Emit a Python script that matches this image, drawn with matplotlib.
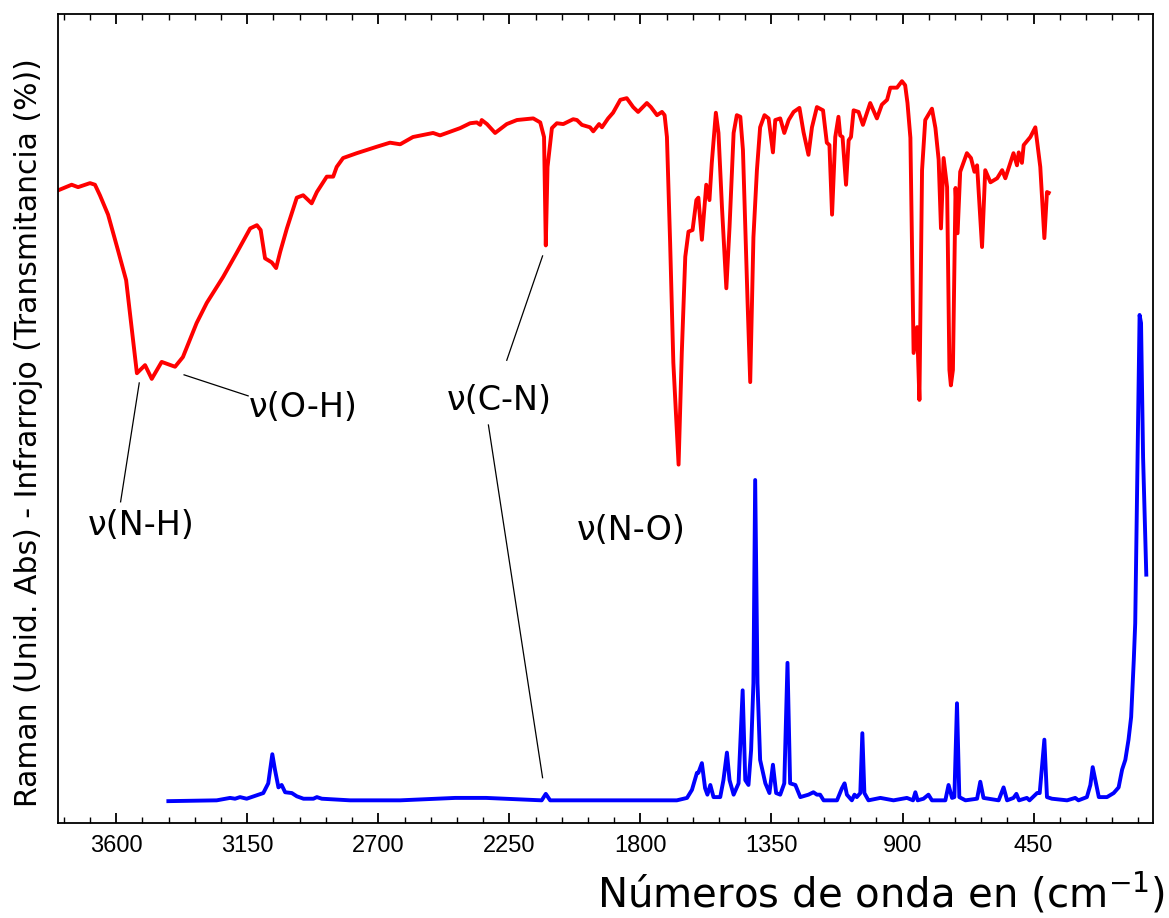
import matplotlib.pyplot as plt
from matplotlib.ticker import MultipleLocator

# IR (transmitancia, escala relativa 0-100)
ir_wn = [3800, 3753, 3731, 3690, 3673, 3656, 3628, 3594, 3566, 3546, 3529, 3501, 3478, 3444,
         3398, 3371, 3324, 3289, 3233, 3186, 3140, 3117, 3104, 3089, 3066, 3051, 3037, 3014,
         2980, 2958, 2929, 2911, 2877, 2855, 2843, 2821, 2774, 2705, 2660, 2625, 2581, 2512,
         2488, 2419, 2385, 2362, 2350, 2345, 2327, 2299, 2259, 2224, 2168, 2144, 2131, 2125,
         2119, 2104, 2087, 2065, 2031, 2018, 2001, 1973, 1962, 1942, 1932, 1911, 1894, 1869,
         1847, 1825, 1808, 1778, 1764, 1743, 1726, 1717, 1709, 1698, 1687, 1669, 1658, 1646,
         1635, 1621, 1608, 1601, 1589, 1574, 1563, 1555, 1541, 1532, 1520, 1505, 1494, 1480,
         1469, 1457, 1448, 1432, 1423, 1412, 1400, 1389, 1374, 1360, 1345, 1337, 1320, 1306,
         1291, 1274, 1254, 1240, 1223, 1211, 1194, 1173, 1160, 1151, 1142, 1131, 1120, 1114,
         1106, 1094, 1085, 1077, 1068, 1051, 1036, 1011, 988, 971, 953, 942, 919, 902, 891,
         883, 873, 862, 850, 842, 833, 822, 799, 787, 776, 768, 759, 747, 739, 734, 727, 718,
         711, 702, 679, 665, 653, 644, 627, 616, 598, 575, 558, 547, 519, 507, 501, 490, 484,
         461, 444, 427, 413, 404, 398]
ir_t = [78.2, 78.9, 78.6, 79.1, 78.9, 77.6, 75.2, 70.8, 67.1, 60.9, 55.6, 56.6, 54.9, 57.0,
        56.4, 57.6, 61.8, 64.3, 67.5, 70.5, 73.5, 73.9, 73.3, 69.8, 69.3, 68.6, 70.6, 73.5,
        77.3, 77.6, 76.6, 78.0, 79.9, 79.9, 81.1, 82.2, 82.8, 83.6, 84.1, 83.9, 84.8, 85.3,
        85.0, 85.9, 86.5, 86.6, 86.3, 86.9, 86.4, 85.3, 86.4, 86.9, 87.1, 86.6, 84.8, 71.4,
        81.1, 85.9, 86.5, 86.4, 87.0, 86.9, 86.3, 86.0, 85.5, 86.4, 86.0, 87.1, 87.8, 89.4,
        89.6, 88.5, 87.9, 89.0, 88.5, 87.5, 87.9, 87.5, 84.8, 71.7, 56.9, 44.3, 58.1, 70.0,
        73.1, 73.3, 77.0, 77.3, 72.1, 78.9, 77.0, 81.6, 87.8, 85.3, 76.1, 66.1, 73.7, 85.3,
        87.5, 87.3, 83.2, 64.3, 54.5, 72.4, 80.7, 86.0, 87.5, 87.1, 82.9, 86.9, 87.1, 85.3,
        86.9, 87.9, 88.4, 85.4, 82.6, 86.0, 88.5, 88.1, 84.1, 83.8, 75.2, 84.8, 87.3, 85.0,
        84.8, 78.9, 84.4, 84.8, 88.1, 87.9, 86.3, 89.0, 87.1, 88.8, 89.4, 90.9, 90.9, 91.7, 91.2,
        89.0, 84.7, 58.1, 61.3, 52.3, 80.7, 86.9, 88.3, 85.9, 82.0, 73.5, 82.2, 78.6, 56.0, 54.1,
        56.0, 78.5, 72.9, 80.5, 82.8, 82.2, 80.5, 81.3, 71.2, 80.7, 79.2, 79.7, 80.7, 79.7, 82.8,
        81.3, 82.9, 81.6, 83.8, 84.8, 86.0, 81.1, 72.3, 78.0, 77.9]

# Raman (unidades arbitrarias)
ra_wn = [3421, 3255, 3209, 3192, 3175, 3152, 3095, 3078, 3064, 3055, 3043, 3032, 3020, 2997,
         2980, 2957, 2923, 2911, 2894, 2797, 2625, 2436, 2330, 2139, 2125, 2110, 1938, 1675,
         1640, 1623, 1606, 1601, 1589, 1578, 1570, 1560, 1549, 1526, 1515, 1503, 1494, 1480,
         1463, 1449, 1440, 1429, 1420, 1412, 1406, 1398, 1389, 1371, 1357, 1345, 1334, 1320,
         1306, 1295, 1286, 1268, 1251, 1223, 1206, 1194, 1183, 1171, 1125, 1108, 1099, 1091,
         1074, 1065, 1057, 1045, 1038, 1031, 1017, 976, 931, 885, 864, 856, 848, 828, 811, 799,
         753, 742, 730, 722, 713, 705, 684, 644, 633, 622, 570, 553, 541, 519, 509, 500, 473,
         464, 438, 429, 413, 404, 387, 335, 307, 296, 267, 255, 247, 238, 226, 198, 175, 158,
         146, 135, 124, 115, 106, 101, 93, 86, 81, 74, 63]
ra_i = [2.7, 2.8, 3.1, 3.0, 3.2, 3.0, 3.7, 4.9, 8.5, 6.6, 4.4, 4.7, 3.8, 3.7,
        3.3, 3.0, 3.0, 3.2, 3.0, 2.8, 2.8, 3.1, 3.1, 2.8, 3.6, 2.8, 2.8, 2.8,
        3.1, 4.1, 6.2, 6.2, 7.4, 4.3, 3.5, 4.7, 3.2, 3.2, 5.3, 8.7, 5.3, 3.5,
        4.9, 16.4, 5.3, 4.7, 9.0, 17.3, 42.4, 17.3, 7.8, 4.9, 3.7, 7.2, 3.7, 3.5,
        4.9, 19.8, 4.9, 4.7, 3.2, 3.5, 3.8, 3.5, 3.5, 2.8, 2.8, 4.3, 4.9, 3.5,
        2.8, 3.5, 3.2, 3.7, 11.1, 3.7, 2.8, 3.1, 2.8, 3.1, 2.8, 3.8, 2.8, 3.0, 3.5, 2.8,
        2.8, 4.7, 3.1, 3.2, 14.8, 3.2, 2.8, 3.0, 5.1, 3.1, 2.8, 4.4, 2.8, 3.1, 3.6, 2.8, 3.1,
        2.8, 3.7, 3.7, 10.3, 3.2, 3.0, 2.8, 3.1, 2.8, 3.2, 4.7, 6.9, 5.3, 3.2, 3.2, 3.7, 4.4,
        6.6, 7.8, 10.3, 13.1, 20.1, 24.7, 45.2, 62.8, 61.8, 45.2, 30.7]

# etiquetas: texto, posicion del texto, segmentos guia (wn1, y1, wn2, y2)
labels = ['ν(N-H)', 'ν(O-H)', 'ν(C-N)', 'ν(N-O)']
label_xy = [(3513, 36.8), (2957, 51.3), (2285, 52.2), (1830, 36.2)]
guides = [(3521, 54.4, 3585, 39.7), (3367, 55.4, 3147, 52.8),
          (2136, 70.1, 2259, 57.2), (2322, 49.2, 2136, 5.6)]

fig = plt.figure(figsize=(11.69, 9.18), dpi=100)
ax = fig.add_axes([0.0496, 0.1035, 0.9367, 0.8812])

ax.plot(ir_wn, ir_t, color='#ff0000', linewidth=2.8, solid_joinstyle='round')
ax.plot(ra_wn, ra_i, color='#0000ff', linewidth=2.8, solid_joinstyle='round')

for (x1, y1, x2, y2) in guides:
    ax.plot([x1, x2], [y1, y2], color='black', linewidth=0.9)
for txt, (x, y) in zip(labels, label_xy):
    ax.text(x, y, txt, ha='center', va='center', fontsize=24, family='DejaVu Sans')

ax.set_xlim(3800, 40)
ax.set_ylim(0, 100)
ax.xaxis.set_minor_locator(MultipleLocator(90))
ax.set_xticks([3600, 3150, 2700, 2250, 1800, 1350, 900, 450])
ax.set_yticks([])
ax.tick_params(axis='x', which='both', direction='in', top=True, bottom=True)
ax.tick_params(axis='x', which='major', length=7, width=1.3, labelsize=17, pad=9)
ax.tick_params(axis='x', which='minor', length=4, width=1.0)
for lab in ax.get_xticklabels():
    lab.set_family('Liberation Sans')
for sp in ax.spines.values():
    sp.set_linewidth(1.3)

ax.set_ylabel('Raman (Unid. Abs) - Infrarrojo (Transmitancia (%))', fontsize=21.5)
ax.yaxis.set_label_coords(-0.014, 0.483)
fig.text(0.997, 0.002, 'Números de onda en (cm$^{-1}$)', ha='right', va='bottom', fontsize=29)

fig.savefig('out.png', dpi=100)
